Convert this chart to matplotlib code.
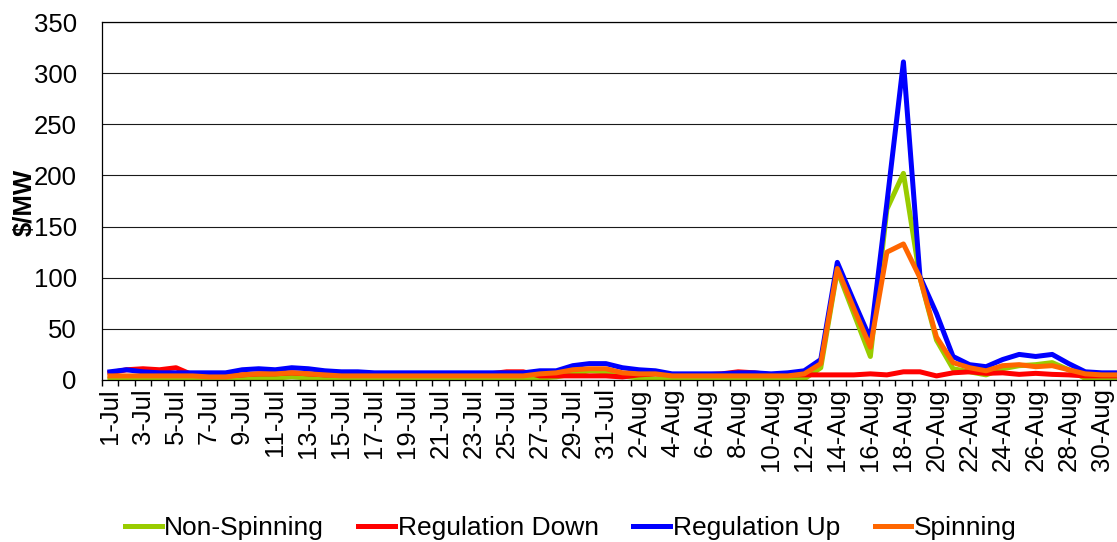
import matplotlib
matplotlib.use("Agg")
import matplotlib.pyplot as plt
from matplotlib.ticker import FixedLocator

plt.rcParams['font.family'] = ['Liberation Sans', 'DejaVu Sans']

# one category per day, 1-Jul .. 31-Aug
days = [f"{d}-Jul" for d in range(1, 32)] + [f"{d}-Aug" for d in range(1, 32)]

non_spinning = [1, 1, 1, 1, 1, 1, 1, 1, 2, 2, 2, 3, 2, 1, 1, 1, 1, 1, 1, 1,
                1, 1, 1, 1, 1, 1, 2, 3, 6, 9, 8,
                4, 2, 1, 1, 1, 1, 1, 1, 1, 1, 1, 1, 12, 107, 65, 23, 167, 202, 100,
                39, 11, 8, 5, 11, 14, 15, 17, 10, 1.5, 1.5, 1.5]
regulation_down = [7, 10, 11, 10, 12, 5, 4, 4, 5, 6, 6, 7, 6, 5, 5, 5, 5, 5, 5, 5,
                   5, 5, 5, 6, 8, 8, 4, 4, 4, 4, 4,
                   3, 5, 6, 5, 5, 5, 6, 8, 7, 5, 5, 5, 5, 5, 5, 6, 5, 8, 8,
                   4, 7, 8, 6.5, 7, 5.5, 6.5, 5.5, 5, 4, 4, 4]
regulation_up = [8, 10, 8, 7, 7, 7, 7, 7, 10, 11, 10, 12, 11, 9, 8, 8, 7, 7, 7, 7,
                 7, 7, 7, 7, 7, 7, 9, 9, 14, 16, 16,
                 12, 10, 9, 6, 6, 6, 6, 7, 7, 6, 7, 9, 20, 115, 77, 40, 173, 311, 101,
                 65, 23, 15, 13, 20, 25, 23, 25, 16, 8, 7, 7]
spinning = [4, 4, 4, 4, 4, 4, 3, 3, 5, 6, 6, 7, 6, 5, 4, 4, 4, 4, 4, 4,
            4, 4, 4, 4, 4, 4, 6, 7, 10, 11, 11,
            7, 6, 6, 4, 4, 4, 4, 4, 4, 4, 4, 6, 16, 109, 70, 32, 125, 133, 100,
            42, 17, 12, 9, 14, 15, 13, 14, 10, 6, 5, 5]

series = [("Non-Spinning", non_spinning, "#99CC00"),
          ("Regulation Down", regulation_down, "#FF0000"),
          ("Regulation Up", regulation_up, "#0000FF"),
          ("Spinning", spinning, "#FF6600")]

fig = plt.figure(figsize=(11.17, 5.42), dpi=100)
# the plot runs past the right edge of the picture, like the original
ax = fig.add_axes([0.0910, 0.2989, 0.9176, 0.6605])

x = list(range(len(days)))
for name, vals, col in series:
    ax.plot(x, vals, color=col, lw=3.6, label=name, solid_joinstyle='round')

ax.set_xlim(-0.5, len(days) - 0.5)
ax.set_ylim(0, 350)
ax.set_yticks(range(0, 351, 50))
ax.yaxis.grid(True, color='#1a1a1a', lw=0.8)
ax.set_axisbelow(True)

ax.set_xticks(x[::2])
ax.set_xticklabels(days[::2], rotation=90, fontsize=18.5)
ax.xaxis.set_minor_locator(FixedLocator([i - 0.5 for i in range(len(days) + 1)]))
ax.tick_params(axis='x', which='major', length=0, pad=6)
ax.tick_params(axis='x', which='minor', length=4, width=1, direction='out')
ax.tick_params(axis='y', length=0, pad=18, labelsize=18.5)

ax.spines['right'].set_visible(False)
for side in ['left', 'bottom', 'top']:
    ax.spines[side].set_color('black')
    ax.spines[side].set_linewidth(0.9)

fig.text(0.022, 0.627, "$/MW", rotation=90, fontsize=18.5, fontweight='bold',
         ha='center', va='center')

fig.legend(loc='center', bbox_to_anchor=(0.511, 0.026), ncol=4, frameon=False,
           fontsize=19, handlelength=1.4, handletextpad=0.1, columnspacing=1.3,
           borderpad=0)

plt.savefig("out.png", dpi=100)
